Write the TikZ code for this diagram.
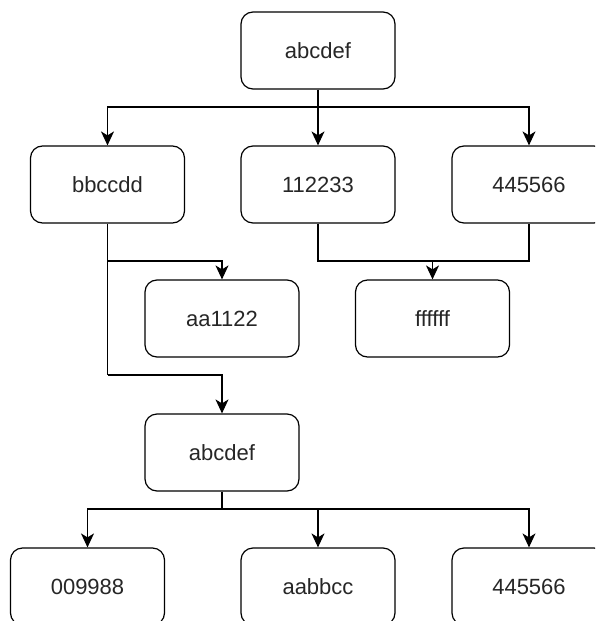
\documentclass[tikz,border=0pt]{standalone}
\usepackage{fontspec}
\setmainfont{Liberation Sans}
\usetikzlibrary{arrows.meta}
\begin{document}
\begin{tikzpicture}[x=1pt,y=-1pt,
  box/.style={draw=black, line width=1.2pt, rounded corners=12pt,
    minimum width=154pt, minimum height=77pt, inner sep=0pt,
    font=\fontsize{22}{26}\selectfont, text=black!85},
  link/.style={draw=black, line width=1.2pt},
  arr/.style={link, -{Stealth[length=14pt, width=13pt, inset=4pt]}}]
\useasboundingbox (0,0) rectangle (595,621);
\clip (0,0) rectangle (595,621);

% tree nodes
\node[box] (root) at (318,50.5) {abcdef};
\node[box] (b1) at (107.5,184.5) {bbccdd};
\node[box] (b2) at (318,184.5) {112233};
\node[box] (b3) at (529,184.5) {445566};
\node[box] (c1) at (222,318.5) {aa1122};
\node[box] (c2) at (432.5,318.5) {ffffff};
\node[box] (d1) at (222,452.5) {abcdef};
\node[box] (e1) at (87.5,586.5) {009988};
\node[box] (e2) at (318,586.5) {aabbcc};
\node[box] (e3) at (529,586.5) {445566};

% junction points of the orthogonal connectors
\coordinate (j1) at (318,107);
\coordinate (j2) at (107.5,261);
\coordinate (j3) at (107.5,375);
\coordinate (j4) at (318,261);
\coordinate (j5) at (222,509);

% root to second row
\draw[link] (root.south) -- (j1);
\draw[arr] (j1) -| (b1.north);
\draw[arr] (j1) -- (b2.north);
\draw[arr] (j1) -| (b3.north);

% bbccdd to its children
\draw[link] (b1.south) -- (j3);
\draw[arr] (j2) -| (c1.north);
\draw[arr] (j3) -| (d1.north);

% 112233 and 445566 joined into ffffff
\draw[link] (b2.south) -- (j4) -| (b3.south);
\draw[arr] (c2.north |- j4) -- (c2.north);

% second abcdef to the bottom row
\draw[link] (d1.south) -- (j5);
\draw[arr] (j5) -| (e1.north);
\draw[arr] (j5) -| (e2.north);
\draw[arr] (j5) -| (e3.north);
\end{tikzpicture}
\end{document}
